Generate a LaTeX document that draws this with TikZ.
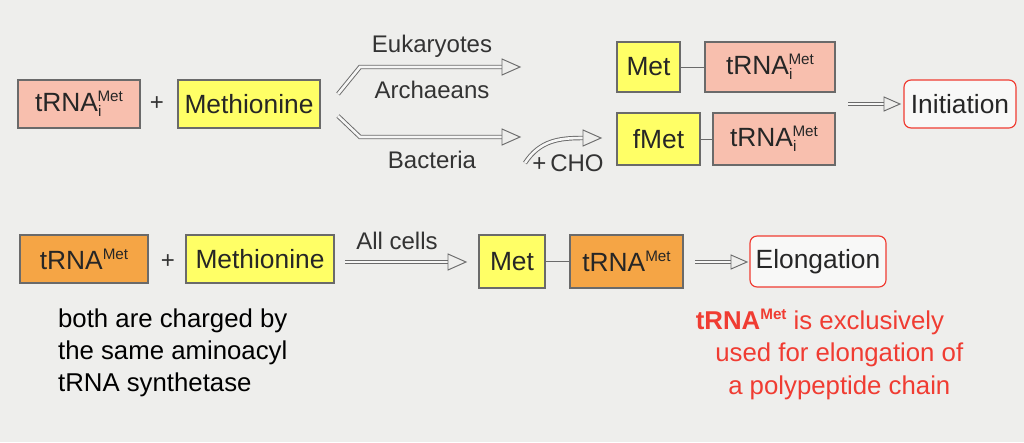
\documentclass[tikz,border=0pt]{standalone}
\usepackage{fontspec}
\setmainfont{Liberation Sans}
\usetikzlibrary{calc}
\definecolor{bg}{HTML}{EEEEEC}
\definecolor{pinkf}{HTML}{F8BFAE}
\definecolor{yel}{HTML}{FFFF66}
\definecolor{orf}{HTML}{F5A545}
\definecolor{redt}{HTML}{F03C32}
\definecolor{grl}{HTML}{6A6A6A}
\newcommand{\mysup}[1]{\raisebox{0.7ex}{\fontsize{13}{13}\selectfont #1}}
\newcommand{\mysub}[1]{\raisebox{-0.35ex}{\fontsize{13}{13}\selectfont #1}}
\newcommand{\trnai}{tRNA\mysub{i}\hspace{-0.15em}\mysup{Met}}
\newcommand{\trna}{tRNA\mysup{Met}}
\begin{document}
\begin{tikzpicture}[x=0.03cm,y=-0.03cm,
  box/.style={draw=grl,line width=1pt,inner sep=0pt,font=\fontsize{22.5}{26}\selectfont,text=black!85},
  pk/.style={box,fill=pinkf},
  yl/.style={box,fill=yel},
  og/.style={box,fill=orf},
  rbox/.style={draw=redt,line width=1pt,rounded corners=6pt,fill=white!60!bg,inner sep=0pt,font=\fontsize{22.5}{26}\selectfont,text=black!85},
  lbl/.style={font=\fontsize{20.5}{24}\selectfont,text=black!80},
  dbl/.style={draw=grl,double=bg!50!white,double distance=2.2pt,line width=0.8pt},
  tip/.style={draw=grl,line width=0.8pt,fill=bg},
  ln/.style={draw=grl,line width=0.8pt}]
\fill[bg] (0,0) rectangle (1024,442);
\useasboundingbox (0,0) rectangle (1024,442);
% row 1
\node[pk,minimum width=122*0.03cm,minimum height=48*0.03cm] (t1) at (79,104) {\trnai};
\node[lbl] (p1) at (157,104) {+};
\node[yl,minimum width=142*0.03cm,minimum height=48*0.03cm] (m1) at (249,104) {Methionine};
\node[lbl] (eu) at (432,46) {Eukaryotes};
\node[lbl] (ar) at (432,90) {Archaeans};
\node[lbl] (ba) at (432,160) {Bacteria};
\coordinate (u0) at (338,94); \coordinate (u1) at (360,67); \coordinate (u2) at (502,67);
\coordinate (l0) at (338,116); \coordinate (l1) at (360,137); \coordinate (l2) at (502,137);
\draw[dbl] (u0) -- (u1) -- (u2);
\draw[dbl] (l0) -- (l1) -- (l2);
\draw[tip] ($(u2)+(0,-8)$) -- ++(18,8) -- ++(-18,8) -- cycle;
\draw[tip] ($(l2)+(0,-8)$) -- ++(18,8) -- ++(-18,8) -- cycle;
\coordinate (c0) at (525,163); \coordinate (c2) at (583,138);
\draw[dbl] (c0) .. controls (540,140) and (560,138) .. (c2);
\draw[tip] ($(c2)+(0,-8)$) -- ++(18,8) -- ++(-18,8) -- cycle;
\node[lbl] (cho) at (568,163) {+\,CHO};
\node[yl,minimum width=63*0.03cm,minimum height=50*0.03cm] (met1) at (648.5,67) {Met};
\node[pk,minimum width=130*0.03cm,minimum height=50*0.03cm] (t2) at (770,67) {\trnai};
\draw[ln] (met1) -- (t2);
\node[yl,minimum width=83*0.03cm,minimum height=52*0.03cm] (fmet) at (658.5,139) {fMet};
\node[pk,minimum width=122*0.03cm,minimum height=52*0.03cm] (t3) at (774,139) {\trnai};
\draw[ln] (fmet) -- (t3);
\coordinate (i0) at (848,104); \coordinate (i1) at (884,104);
\draw[dbl] (i0) -- (i1);
\draw[tip] ($(i1)+(0,-7)$) -- ++(16,7) -- ++(-16,7) -- cycle;
\node[rbox,minimum width=112*0.03cm,minimum height=48*0.03cm] (ini) at (960,104) {Initiation};
% row 2
\node[og,minimum width=128*0.03cm,minimum height=48*0.03cm] (t4) at (84,259) {\trna};
\node[lbl] (p2) at (168,262) {+};
\node[yl,minimum width=148*0.03cm,minimum height=48*0.03cm] (m2) at (260,259) {Methionine};
\node[lbl] (all) at (397,241) {All cells};
\coordinate (a0) at (345,262); \coordinate (a1) at (448,262);
\draw[dbl] (a0) -- (a1);
\draw[tip] ($(a1)+(0,-8)$) -- ++(18,8) -- ++(-18,8) -- cycle;
\node[yl,minimum width=66*0.03cm,minimum height=53*0.03cm] (met2) at (512,261.5) {Met};
\node[og,minimum width=113*0.03cm,minimum height=53*0.03cm] (t5) at (626.5,261.5) {\trna};
\draw[ln] (met2) -- (t5);
\coordinate (e0) at (695,262); \coordinate (e1) at (731,262);
\draw[dbl] (e0) -- (e1);
\draw[tip] ($(e1)+(0,-7)$) -- ++(16,7) -- ++(-16,7) -- cycle;
\node[rbox,minimum width=136*0.03cm,minimum height=51*0.03cm] (elo) at (818,261.5) {Elongation};
\node[font=\fontsize{22}{27}\selectfont,align=left,anchor=north west] (note) at (54,305) {both are charged by\\the same aminoacyl\\tRNA synthetase};
\node[font=\fontsize{22}{28}\selectfont,align=center,anchor=north,text=redt] (rnote) at (820,305) {\textbf{tRNA\raisebox{0.7ex}{\fontsize{13}{13}\selectfont\bfseries Met}} is exclusively\\\hspace*{1.5em}used for elongation of\\\hspace*{1.5em}a polypeptide chain};
\end{tikzpicture}
\end{document}
